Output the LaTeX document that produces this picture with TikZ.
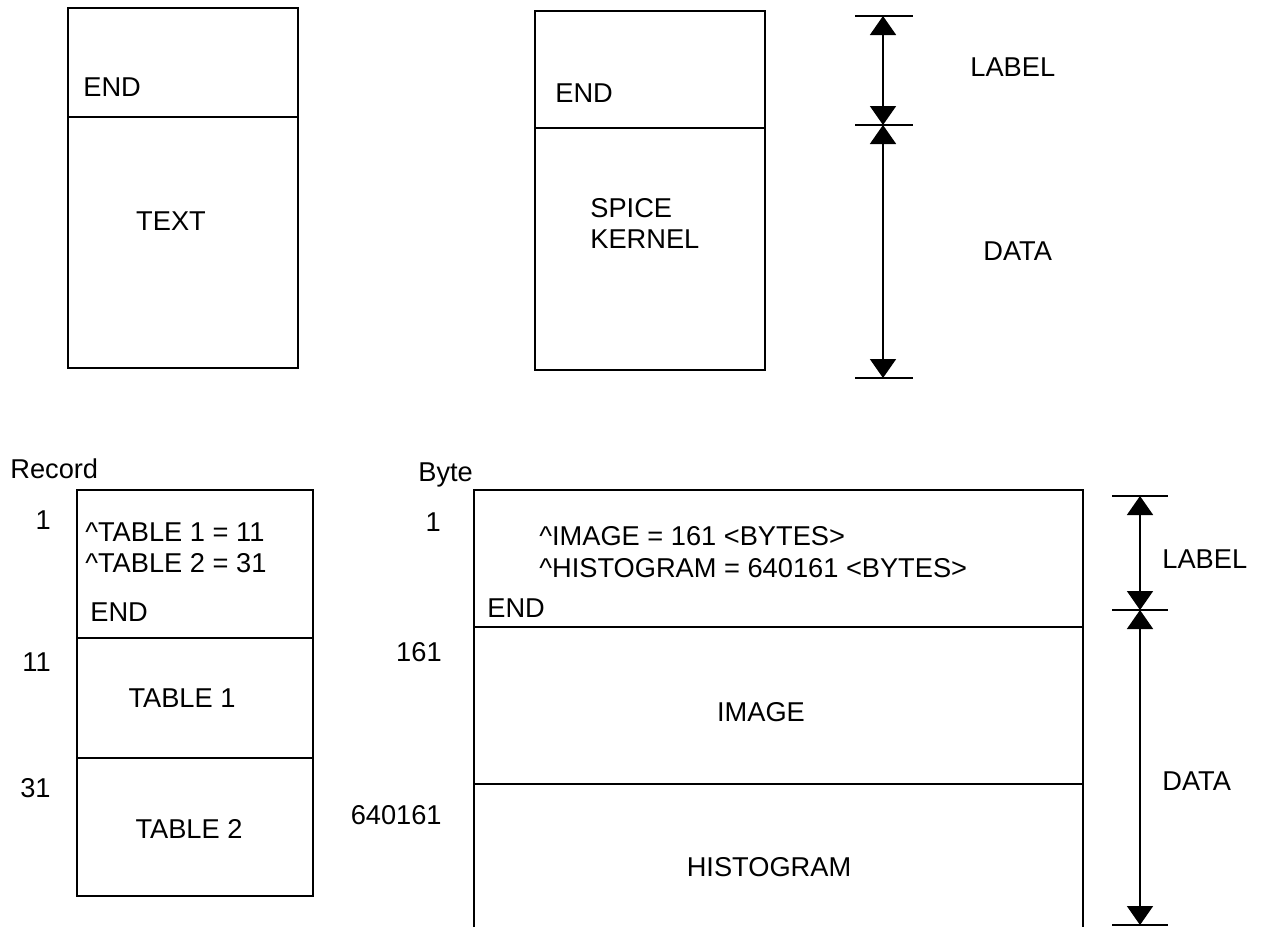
\documentclass[tikz,border=0pt]{standalone}
\usepackage{fontspec}
\setmainfont{Liberation Sans}
\usetikzlibrary{arrows.meta}

\tikzset{
  box/.style={line width=1.3pt},
  tick/.style={line width=1pt},
  dim/.style={line width=1pt,
    {Triangle[length=0.38cm,width=0.52cm]}-{Triangle[length=0.38cm,width=0.52cm]}},
  txt/.style={inner sep=0pt, font=\fontsize{15.5}{18}\selectfont},
}

\begin{document}
\begin{tikzpicture}[x=0.02cm, y=-0.02cm]
   \useasboundingbox (0,0) rectangle (1267,927);
   % text file
   \draw[box] (68,8) rectangle (298,368);
   \draw[box] (68,117) -- (298,117);
   \node[txt, anchor=west] (endtext) at (83,87) {END};
   \node[txt] (text) at (171,221) {TEXT};
   % kernel file
   \draw[box] (535,11) rectangle (765,370);
   \draw[box] (535,128) -- (765,128);
   \node[txt, anchor=west] (endkernel) at (555,93) {END};
   \node[txt, anchor=north west, align=left] (kernel) at (590,198) {SPICE\\KERNEL};
   % label / data extent, top
   \coordinate (toplbl) at (883,16);
   \coordinate (topmid) at (883,125);
   \coordinate (topend) at (883,378);
   \foreach \y in {16,125,378}
     \draw[tick] (855,\y) -- (913,\y);
   \draw[dim] (toplbl) -- (topmid);
   \draw[dim] (topmid) -- (topend);
   \node[txt, anchor=west] (toplabel) at (970,67) {LABEL};
   \node[txt, anchor=west] (topdata) at (983,251) {DATA};
   % record file
   \node[txt, anchor=base west] (record) at (10,478) {Record};
   \draw[box] (77,490) rectangle (313,896);
   \draw[box] (77,638) -- (313,638);
   \draw[box] (77,758) -- (313,758);
   \node[txt, anchor=east] (rec1) at (51,520) {1};
   \node[txt, anchor=east] (rec11) at (51,662) {11};
   \node[txt, anchor=east] (rec31) at (51,788) {31};
   \node[txt, anchor=north west, align=left] (ptrtab) at (85,522)
     {\textasciicircum TABLE 1 = 11\\\textasciicircum TABLE 2 = 31};
   \node[txt, anchor=west] (endrec) at (90,612) {END};
   \node[txt] (tab1) at (182,698) {TABLE 1};
   \node[txt] (tab2) at (189,829) {TABLE 2};
   % byte file
   \node[txt, anchor=base west] (byte) at (418,481) {Byte};
   \draw[box] (474,927) -- (474,490) -- (1083,490) -- (1083,927);
   \draw[box] (474,627) -- (1083,627);
   \draw[box] (474,784) -- (1083,784);
   \node[txt, anchor=east] (byte1) at (441,522) {1};
   \node[txt, anchor=east] (byte161) at (442,652) {161};
   \node[txt, anchor=east] (byte640) at (442,815) {640161};
   \node[txt, anchor=north west, align=left] (ptrimg) at (539,526)
     {\textasciicircum IMAGE = 161 \textless BYTES\textgreater\\
      \textasciicircum HISTOGRAM = 640161 \textless BYTES\textgreater};
   \node[txt, anchor=west] (endbyte) at (487,608) {END};
   \node[txt] (image) at (761,712) {IMAGE};
   \node[txt] (histo) at (769,867) {HISTOGRAM};
   % label / data extent, bottom
   \coordinate (botlbl) at (1140,496);
   \coordinate (botmid) at (1140,610);
   \coordinate (botend) at (1140,925);
   \foreach \y in {496,610,925}
     \draw[tick] (1112,\y) -- (1168,\y);
   \draw[dim] (botlbl) -- (botmid);
   \draw[dim] (botmid) -- (botend);
   \node[txt, anchor=west] (botlabel) at (1162,559) {LABEL};
   \node[txt, anchor=west] (botdata) at (1162,781) {DATA};
\end{tikzpicture}
\end{document}
